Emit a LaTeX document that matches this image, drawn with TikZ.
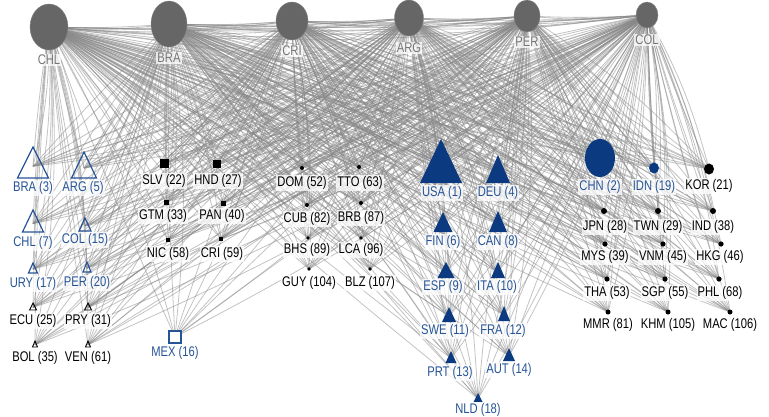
\documentclass[tikz,border=0pt]{standalone}
\usepackage{fontspec}
\setmainfont{Liberation Sans}[FakeStretch=0.8]
\usetikzlibrary{shapes.geometric}
\definecolor{nblue}{RGB}{12,58,128}
\definecolor{tblue}{RGB}{38,84,150}
\definecolor{hubgray}{RGB}{102,102,102}
\definecolor{hubtext}{RGB}{118,118,118}
\definecolor{edgegray}{RGB}{135,135,135}
\tikzset{
  edge/.style={draw=edgegray, opacity=0.5, line width=0.8},
  hub/.style={ellipse, fill=hubgray, draw=hubgray!80, inner sep=0},
  hublab/.style={text=hubtext, font=\fontsize{14}{14}\selectfont, fill=white, fill opacity=0.75, text opacity=1, inner sep=1},
  lab/.style={font=\fontsize{14}{14}\selectfont, fill=white, fill opacity=0.75, text opacity=1, inner sep=1},
  tho/.style={draw=tblue, line width=1.2, line join=miter},
  thk/.style={draw=black, line width=0.9},
  tf/.style={fill=nblue},
  sqo/.style={draw=tblue, line width=1.1, fill=white},
  sqf/.style={fill=black},
}
\begin{document}
\begin{tikzpicture}[x=1pt, y=-1pt]
\useasboundingbox (0,0) rectangle (769,416);
\clip (0,0) rectangle (769,416);
% hub coordinates
\coordinate (hCHL) at (49,27);
\coordinate (hBRA) at (169,24);
\coordinate (hCRI) at (292,21);
\coordinate (hARG) at (409,18);
\coordinate (hPER) at (527,16);
\coordinate (hCOL) at (647,15);
% triangle nodes
\foreach \n/\x/\a/\w/\h/\s in {BRA3/33/147/31/31/tho, ARG5/84/152/25/26/tho, CHL7/33/210/21/22/tho, COL15/85/218/12/13/tho, URY17/33/263/9/10/tho, PER20/87/262/8/10/tho, ECU25/33/303/7/7/thk, PRY31/88/303/7/7/thk, BOL35/35/341/5/6/thk, VEN61/88/341/5/6/thk, USA1/441/139/42/44/tf, DEU4/498/155/24/28/tf, FIN6/443/212/19/20/tf, CAN8/498/211/18/21/tf, ESP9/446/262/17/16/tf, ITA10/498/262/14/16/tf, SWE11/449/307/14/15/tf, FRA12/504/306/12/15/tf, PRT13/451/351/11/12/tf, AUT14/509/348/12/13/tf, NLD18/478/393/9/9/tf}
  \coordinate (\n) at (\x,{\a+0.62*\h});
% square nodes
\foreach \n/\x/\y/\z/\s in {MEX16/175/337/12/sqo, SLV22/164/163/9/sqf, HND27/217/164/7.5/sqf, GTM33/166/202/5/sqf, PAN40/223/203/5/sqf, NIC58/168/240/4.5/sqf, CRI59/221/239/4.5/sqf}
  \coordinate (\n) at (\x,\y);
% round nodes
\foreach \n/\x/\y/\rx/\ry/\c in {CHN2/600/158/15/19/nblue, IDN19/654/168/5/5.5/nblue, KOR21/709/169/5/5.5/black, JPN28/604/211/3/3/black, TWN29/658/211/3/3/black, IND38/713/211/3/3/black, MYS39/605/244/2.6/2.6/black, VNM45/663/244/2.6/2.6/black, HKG46/721/244/2.6/2.6/black, THA53/607/279/2.6/2.6/black, SGP55/665/279/2.6/2.6/black, PHL68/719/279/2.6/2.6/black, MMR81/608/312/2.5/2.5/black, KHM105/668/312/2.5/2.5/black, MAC106/730/312/2.5/2.5/black, DOM52/302/168/2/2/black, TTO63/359/167/2/2/black, CUB82/307/205/2/2/black, BRB87/361/203/2/2/black, BHS89/308/238/1.9/1.9/black, LCA96/361/238/1.9/1.9/black, GUY104/309/269/1.8/1.8/black, BLZ107/370/269/1.8/1.8/black}
  \coordinate (\n) at (\x,\y);
% edges hub -> nodes (two arcs each, as in the reference)
\foreach \h in {hCHL,hBRA,hCRI,hARG,hPER,hCOL}
  \foreach \n in {BRA3,ARG5,CHL7,COL15,URY17,PER20,ECU25,PRY31,BOL35,VEN61,USA1,DEU4,FIN6,CAN8,ESP9,ITA10,SWE11,FRA12,PRT13,AUT14,NLD18,MEX16,SLV22,HND27,GTM33,PAN40,NIC58,CRI59,CHN2,IDN19,KOR21,JPN28,TWN29,IND38,MYS39,VNM45,HKG46,THA53,SGP55,PHL68,MMR81,KHM105,MAC106,DOM52,TTO63,CUB82,BRB87,BHS89,LCA96,GUY104,BLZ107}
    {\draw[edge] (\h) to[bend left=7] (\n);
     \draw[edge] (\h) to[bend right=2] (\n);}
% hub-hub edges
\foreach \a/\b in {hCHL/hBRA,hCHL/hCRI,hCHL/hARG,hCHL/hPER,hCHL/hCOL,hBRA/hCRI,hBRA/hARG,hBRA/hPER,hBRA/hCOL,hCRI/hARG,hCRI/hPER,hCRI/hCOL,hARG/hPER,hARG/hCOL,hPER/hCOL}
  {\draw[edge] (\a) to[bend right=3] (\b);
   \draw[edge] (\a) to[bend right=6] (\b);}
% hubs
\node[hub, minimum width=38, minimum height=46] (sCHL) at (hCHL) {};
\node[hub, minimum width=36, minimum height=46] (sBRA) at (hBRA) {};
\node[hub, minimum width=32, minimum height=38] (sCRI) at (hCRI) {};
\node[hub, minimum width=29, minimum height=36] (sARG) at (hARG) {};
\node[hub, minimum width=26, minimum height=32] (sPER) at (hPER) {};
\node[hub, minimum width=22, minimum height=26] (sCOL) at (hCOL) {};
\node[hublab] (lCHL) at (49,60) {CHL};
\node[hublab] (lBRA) at (169,58) {BRA};
\node[hublab] (lCRI) at (292,51) {CRI};
\node[hublab] (lARG) at (409,48) {ARG};
\node[hublab] (lPER) at (527,42) {PER};
\node[hublab] (lCOL) at (647,40) {COL};
% triangle shapes
\foreach \n/\x/\a/\w/\h/\s in {BRA3/33/147/31/31/tho, ARG5/84/152/25/26/tho, CHL7/33/210/21/22/tho, COL15/85/218/12/13/tho, URY17/33/263/9/10/tho, PER20/87/262/8/10/tho, ECU25/33/303/7/7/thk, PRY31/88/303/7/7/thk, BOL35/35/341/5/6/thk, VEN61/88/341/5/6/thk, USA1/441/139/42/44/tf, DEU4/498/155/24/28/tf, FIN6/443/212/19/20/tf, CAN8/498/211/18/21/tf, ESP9/446/262/17/16/tf, ITA10/498/262/14/16/tf, SWE11/449/307/14/15/tf, FRA12/504/306/12/15/tf, PRT13/451/351/11/12/tf, AUT14/509/348/12/13/tf, NLD18/478/393/9/9/tf}
  \path[\s] (\x,\a) -- ({\x+0.5*\w},{\a+\h}) -- ({\x-0.5*\w},{\a+\h}) -- cycle;
% square shapes
\foreach \n/\x/\y/\z/\s in {MEX16/175/337/12/sqo, SLV22/164/163/9/sqf, HND27/217/164/7.5/sqf, GTM33/166/202/5/sqf, PAN40/223/203/5/sqf, NIC58/168/240/4.5/sqf, CRI59/221/239/4.5/sqf}
  \path[\s] ({\x-0.5*\z},{\y-0.5*\z}) rectangle ({\x+0.5*\z},{\y+0.5*\z});
% round shapes
\foreach \n/\x/\y/\rx/\ry/\c in {CHN2/600/158/15/19/nblue, IDN19/654/168/5/5.5/nblue, KOR21/709/169/5/5.5/black, JPN28/604/211/3/3/black, TWN29/658/211/3/3/black, IND38/713/211/3/3/black, MYS39/605/244/2.6/2.6/black, VNM45/663/244/2.6/2.6/black, HKG46/721/244/2.6/2.6/black, THA53/607/279/2.6/2.6/black, SGP55/665/279/2.6/2.6/black, PHL68/719/279/2.6/2.6/black, MMR81/608/312/2.5/2.5/black, KHM105/668/312/2.5/2.5/black, MAC106/730/312/2.5/2.5/black, DOM52/302/168/2/2/black, TTO63/359/167/2/2/black, CUB82/307/205/2/2/black, BRB87/361/203/2/2/black, BHS89/308/238/1.9/1.9/black, LCA96/361/238/1.9/1.9/black, GUY104/309/269/1.8/1.8/black, BLZ107/370/269/1.8/1.8/black}
  \fill[\c] (\n) ellipse [x radius=\rx, y radius=\ry];
% labels
\foreach \n/\x/\y/\t/\c in {BRA3/33/188/BRA (3)/tblue, ARG5/83/188/ARG (5)/tblue, CHL7/33/243/CHL (7)/tblue, COL15/85/240/COL (15)/tblue, URY17/33/284/URY (17)/tblue, PER20/87/283/PER (20)/tblue, ECU25/33/321/ECU (25)/black, PRY31/88/321/PRY (31)/black, BOL35/35/358/BOL (35)/black, VEN61/88/358/VEN (61)/black, MEX16/175/353/MEX (16)/tblue, SLV22/164/181/SLV (22)/black, HND27/218/181/HND (27)/black, GTM33/163/216/GTM (33)/black, PAN40/222/216/PAN (40)/black, NIC58/168/254/NIC (58)/black, CRI59/222/254/CRI (59)/black, DOM52/302/183/DOM (52)/black, TTO63/360/183/TTO (63)/black, CUB82/307/219/CUB (82)/black, BRB87/361/218/BRB (87)/black, BHS89/307/250/BHS (89)/black, LCA96/361/250/LCA (96)/black, GUY104/309/283/GUY (104)/black, BLZ107/370/283/BLZ (107)/black, USA1/442/193/USA (1)/tblue, DEU4/498/193/DEU (4)/tblue, FIN6/443/242/FIN (6)/tblue, CAN8/498/242/CAN (8)/tblue, ESP9/443/287/ESP (9)/tblue, ITA10/497/287/ITA (10)/tblue, SWE11/445/331/SWE (11)/tblue, FRA12/503/331/FRA (12)/tblue, PRT13/450/373/PRT (13)/tblue, AUT14/509/370/AUT (14)/tblue, NLD18/478/410/NLD (18)/tblue, CHN2/600/187/CHN (2)/tblue, IDN19/654/187/IDN (19)/tblue, KOR21/709/186/KOR (21)/black, JPN28/605/227/JPN (28)/black, TWN29/658/227/TWN (29)/black, IND38/713/227/IND (38)/black, MYS39/605/257/MYS (39)/black, VNM45/663/257/VNM (45)/black, HKG46/720/257/HKG (46)/black, THA53/607/293/THA (53)/black, SGP55/665/293/SGP (55)/black, PHL68/720/293/PHL (68)/black, MMR81/608/325/MMR (81)/black, KHM105/668/325/KHM (105)/black, MAC106/730/325/MAC (106)/black}
  \node[lab, text=\c] (l\n) at (\x,\y) {\t};
\end{tikzpicture}
\end{document}
